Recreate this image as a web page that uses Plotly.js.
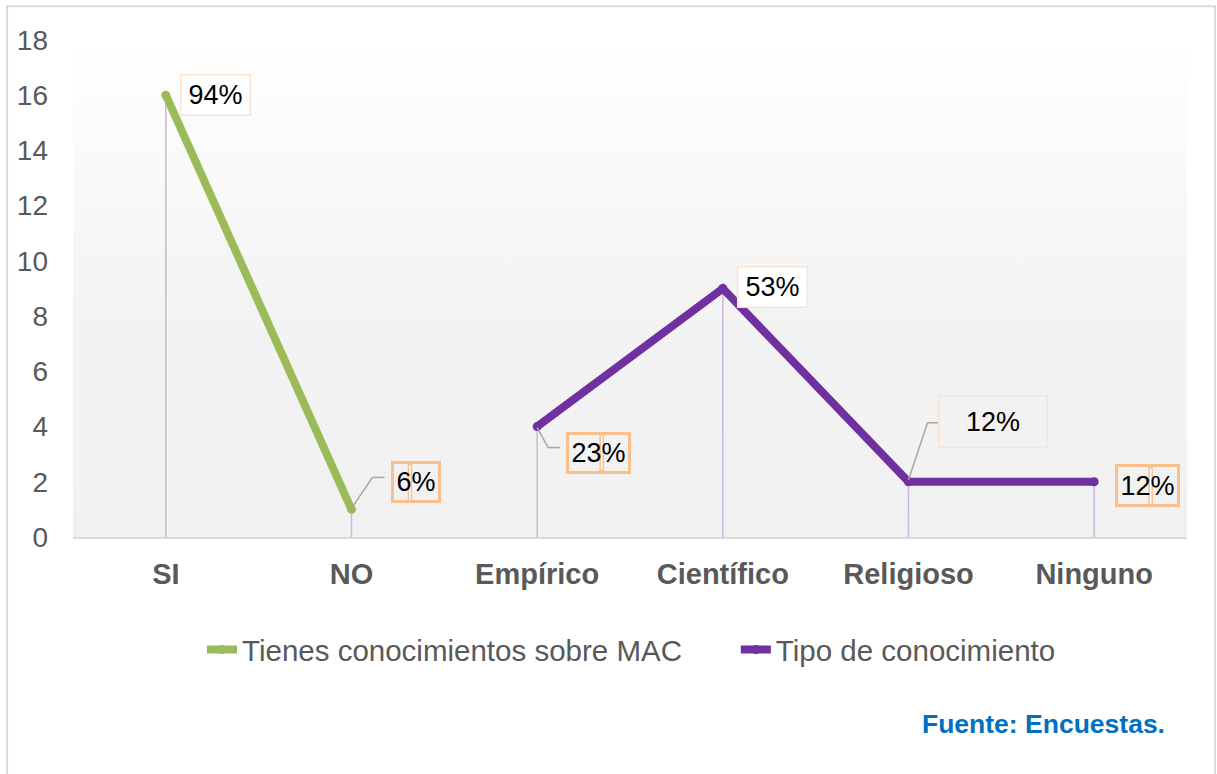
<!DOCTYPE html>
<html>
<head>
<meta charset="utf-8">
<script src="https://cdn.plot.ly/plotly-3.0.1.min.js"></script>
<style>html,body{margin:0;padding:0;background:#fff;}#chart{width:1217px;height:774px;}</style>
</head>
<body>
<div id="chart"></div>
<script>
const categories = ["SI", "NO", "Empírico", "Científico", "Religioso", "Ninguno"];
const conocimientoMAC = [16, 1, null, null, null, null];
const tipoConocimiento = [null, null, 4, 9, 2, 2];
const allValues = [16, 1, 4, 9, 2, 2];
const percentLabels = ["94%", "6%", "23%", "53%", "12%", "12%"];
const seriesNames = ["Tienes conocimientos sobre MAC", "Tipo de conocimiento"];
const yTicks = [0, 2, 4, 6, 8, 10, 12, 14, 16, 18];

const FONT = "Liberation Sans, Arial, sans-serif";
const GREEN = "#9bbb59", PURPLE = "#7030a0";

const dropTrace = {
  x: categories, y: allValues, type: "scatter", mode: "markers",
  marker: {size: 1, opacity: 0}, showlegend: false, hoverinfo: "skip",
  error_y: {type: "data", symmetric: false, array: allValues.map(() => 0),
            arrayminus: allValues, width: 0, color: "#cbb6df", thickness: 1.5}
};
const greenTrace = {
  x: categories, y: conocimientoMAC, type: "scatter", mode: "lines+markers",
  name: seriesNames[0], line: {color: GREEN, width: 8}, marker: {color: GREEN, size: 9},
  hoverinfo: "skip", connectgaps: false, legend: "legend"
};
const purpleTrace = {
  x: categories, y: tipoConocimiento, type: "scatter", mode: "lines+markers",
  name: seriesNames[1], line: {color: PURPLE, width: 8}, marker: {color: PURPLE, size: 9},
  hoverinfo: "skip", connectgaps: false, legend: "legend2"
};

// label style per point: [xshift, yshift, width, height, style]
const labelStyle = [
  [50, 0, 64, 35, "soft"],
  [64, 27, 40, 32, "orange"],
  [61, -26, 55, 32, "orange"],
  [50, 2, 64, 35, "soft"],
  [84, 60, 103, 46, "softclear"],
  [53, -4, 55, 33, "orange"]
];
const annotations = categories.map((c, i) => {
  const s = labelStyle[i];
  const st = s[4];
  return {
    x: c, y: allValues[i], xref: "x", yref: "y", text: percentLabels[i], showarrow: false,
    xshift: s[0], yshift: s[1], width: s[2], height: s[3],
    font: {family: FONT, size: 27, color: "#000"},
    bgcolor: st === "soft" ? "#ffffff" : "rgba(0,0,0,0)",
    bordercolor: st === "orange" ? "#f9bf8c" : "#fbe3d2",
    borderwidth: st === "orange" ? 3 : 1.5, borderpad: 2
  };
});
annotations.push({
  xref: "paper", yref: "paper", x: 0.982, y: -0.376, xanchor: "right", yanchor: "middle",
  text: "<b>Fuente: Encuestas.</b>", showarrow: false,
  font: {family: FONT, size: 26.5, color: "#0070c0"}
});

function seg(cat, val, x0, y0, x1, y1) {
  return {type: "line", xref: "x", yref: "y", xsizemode: "pixel", ysizemode: "pixel",
          xanchor: cat, yanchor: val, x0: x0, y0: y0, x1: x1, y1: y1,
          line: {color: "#a6a6a6", width: 1.5}};
}
function divider(cat, val, x0, x1, y0, y1) {
  return {type: "rect", xref: "x", yref: "y", xsizemode: "pixel", ysizemode: "pixel",
          xanchor: cat, yanchor: val, x0: x0, x1: x1, y0: y0, y1: y1,
          fillcolor: "#ffffff", line: {color: "#f9bf8c", width: 1.5}};
}
const shapes = [
  {type: "rect", xref: "paper", yref: "paper", x0: -0.0592, x1: 1.0251, y0: -0.49, y1: 1.068,
   line: {color: "#d9d9d9", width: 2}, fillcolor: "rgba(0,0,0,0)", layer: "below"},
  seg(categories[4], allValues[4], 0, 2, 19, 59),
  seg(categories[4], allValues[4], 19, 59, 30, 59),
  seg(categories[2], allValues[2], 0, -1, 11, -21),
  seg(categories[2], allValues[2], 11, -21, 23, -21),
  seg(categories[1], allValues[1], 0, 1, 21, 32),
  seg(categories[1], allValues[1], 21, 32, 33, 32),
  divider(categories[1], allValues[1], 57, 60, 9, 45),
  divider(categories[2], allValues[2], 63, 66, -8, -44),
  divider(categories[5], allValues[5], 55, 58, 14, -23)
];

const gradSvg = '<svg xmlns="http://www.w3.org/2000/svg" width="10" height="100" preserveAspectRatio="none">' +
  '<defs><linearGradient id="g" x1="0" y1="0" x2="0" y2="1">' +
  '<stop offset="0" stop-color="#ffffff"/><stop offset="0.55" stop-color="#f3f3f3"/><stop offset="1" stop-color="#f1f1f1"/>' +
  '</linearGradient></defs><rect width="10" height="100" fill="url(#g)"/></svg>';

const legendFont = {family: FONT, size: 29.5, color: "#595959"};
const layout = {
  width: 1217, height: 774,
  margin: {l: 73, r: 30, t: 40, b: 237},
  paper_bgcolor: "#ffffff", plot_bgcolor: "rgba(0,0,0,0)",
  font: {family: FONT, color: "#595959"},
  showlegend: true,
  legend: {orientation: "h", x: 0.1158, xanchor: "left", y: -0.227, yanchor: "middle",
           font: legendFont, bgcolor: "rgba(0,0,0,0)"},
  legend2: {orientation: "h", x: 0.595, xanchor: "left", y: -0.227, yanchor: "middle",
           font: legendFont, bgcolor: "rgba(0,0,0,0)"},
  xaxis: {type: "category", categoryarray: categories, range: [-0.5, 5.5],
          showgrid: false, zeroline: false, showline: true, linecolor: "#d9d9d9", linewidth: 1.5,
          ticks: "", tickfont: {family: FONT, size: 29, color: "#595959", weight: "bold"},
          ticklabelstandoff: 11, fixedrange: true},
  yaxis: {range: [0, 18], tickvals: yTicks, ticktext: yTicks.map(String), showgrid: false,
          zeroline: false, showline: false, ticks: "",
          tickfont: {family: FONT, size: 28, color: "#595959"}, ticklabelstandoff: 24, fixedrange: true},
  images: [{source: "data:image/svg+xml;charset=utf-8," + encodeURIComponent(gradSvg),
            xref: "paper", yref: "paper", x: 0, y: 1, sizex: 1, sizey: 1,
            xanchor: "left", yanchor: "top", sizing: "stretch", layer: "below"}],
  annotations: annotations,
  shapes: shapes,
  hovermode: false
};

Plotly.newPlot("chart", [dropTrace, greenTrace, purpleTrace], layout, {displayModeBar: false, staticPlot: true});
</script>
</body>
</html>
